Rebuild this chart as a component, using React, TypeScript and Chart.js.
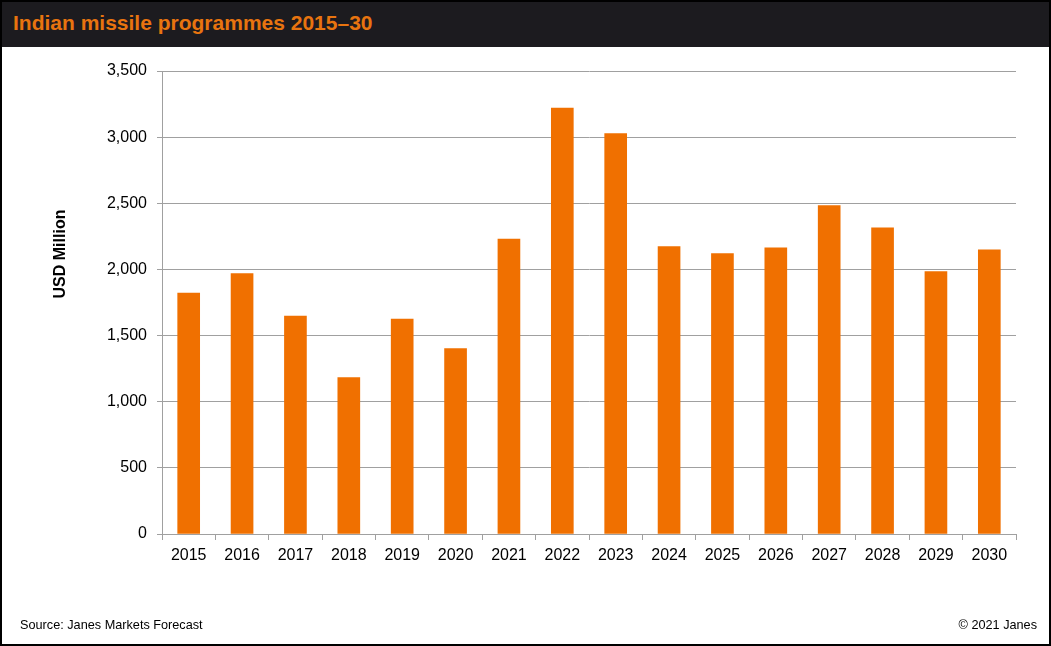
import React, { useEffect, useRef } from "react";
import { Chart, registerables } from "chart.js";

Chart.register(...registerables);

const years = ["2015","2016","2017","2018","2019","2020","2021","2022","2023","2024","2025","2026","2027","2028","2029","2030"];
const spending = [1822, 1968, 1648, 1182, 1625, 1401, 2230, 3220, 3026, 2172, 2119, 2164, 2482, 2315, 1983, 2149];
const yTicksMin = 0;
const yTicksMax = 3500;
const yTicksStep = 500;

const titleText = "Indian missile programmes 2015\u201330";
const yAxisTitle = "USD Million";
const sourceText = "Source: Janes Markets Forecast";
const copyrightText = "\u00a9 2021 Janes";

const FONT = '"Liberation Sans", Arial, Helvetica, sans-serif';
const GRID = "#a0a0a0";

const yTitlePlugin = {
  id: "yTitleFixed",
  afterDraw(chart: any) {
    const ctx = chart.ctx;
    ctx.save();
    ctx.translate(61, 254);
    ctx.rotate(-Math.PI / 2);
    ctx.font = `bold 16px ${FONT}`;
    ctx.fillStyle = "#000";
    ctx.textAlign = "center";
    ctx.textBaseline = "middle";
    ctx.fillText(yAxisTitle, 0, 0);
    ctx.restore();
  },
};

export default function App() {
  const ref = useRef<HTMLCanvasElement>(null);

  useEffect(() => {
    if (!ref.current) return;
    const chart = new Chart(ref.current, {
      type: "bar",
      data: {
        labels: years,
        datasets: [
          {
            data: spending,
            backgroundColor: "#F07000",
            borderWidth: 0,
            barThickness: 22,
          },
        ],
      },
      options: {
        animation: false,
        responsive: false,
        devicePixelRatio: 1,
        layout: { padding: { left: 0, right: 35, top: 71, bottom: 0 } },
        plugins: {
          legend: { display: false },
          tooltip: { enabled: false },
          title: { display: false },
        },
        scales: {
          x: {
            afterFit: (s: any) => { s.height = 112; },
            grid: {
              offset: true,
              drawOnChartArea: false,
              drawTicks: true,
              tickLength: 6,
              color: GRID,
            },
            border: { display: true, color: GRID, width: 1 },
            ticks: {
              color: "#000",
              font: { family: FONT, size: 16 },
              padding: 6,
              maxRotation: 0,
              autoSkip: false,
            },
          },
          y: {
            min: yTicksMin,
            max: yTicksMax,
            afterFit: (s: any) => { s.width = 162; },
            grid: {
              color: GRID,
              drawTicks: true,
              tickLength: 5,
            },
            border: { display: true, color: GRID, width: 1 },
            ticks: {
              stepSize: yTicksStep,
              color: "#000",
              font: { family: FONT, size: 16 },
              padding: 10,
              callback: (v: any) => Number(v).toLocaleString("en-US"),
            },
          },
        },
      },
      plugins: [yTitlePlugin],
    });
    return () => chart.destroy();
  }, []);

  return (
    <div
      style={{
        position: "absolute",
        left: 0,
        top: 0,
        width: 1051,
        height: 646,
        background: "#fff",
        fontFamily: FONT,
        overflow: "hidden",
      }}
    >
      <canvas
        ref={ref}
        width={1051}
        height={646}
        style={{ position: "absolute", left: 0, top: 0, width: 1051, height: 646 }}
      />
      <div
        style={{
          position: "absolute",
          left: 0,
          top: 0,
          width: 1051,
          height: 47,
          background: "#1c1b1f",
        }}
      >
        <div
          style={{
            position: "absolute",
            left: 13,
            top: 10,
            color: "#E8740F",
            fontWeight: "bold",
            fontSize: 21,
            lineHeight: "25px",
            whiteSpace: "nowrap",
          }}
        >
          {titleText}
        </div>
      </div>
      <div
        style={{
          position: "absolute",
          left: 20,
          top: 618,
          fontSize: 12.7,
          lineHeight: "15px",
          color: "#000",
          whiteSpace: "nowrap",
        }}
      >
        {sourceText}
      </div>
      <div
        style={{
          position: "absolute",
          right: 14,
          top: 618,
          fontSize: 12.7,
          lineHeight: "15px",
          color: "#000",
          whiteSpace: "nowrap",
        }}
      >
        {copyrightText}
      </div>
      <div
        style={{
          position: "absolute",
          left: 0,
          top: 0,
          width: 1051,
          height: 646,
          boxSizing: "border-box",
          border: "2px solid #000",
          pointerEvents: "none",
        }}
      />
    </div>
  );
}
